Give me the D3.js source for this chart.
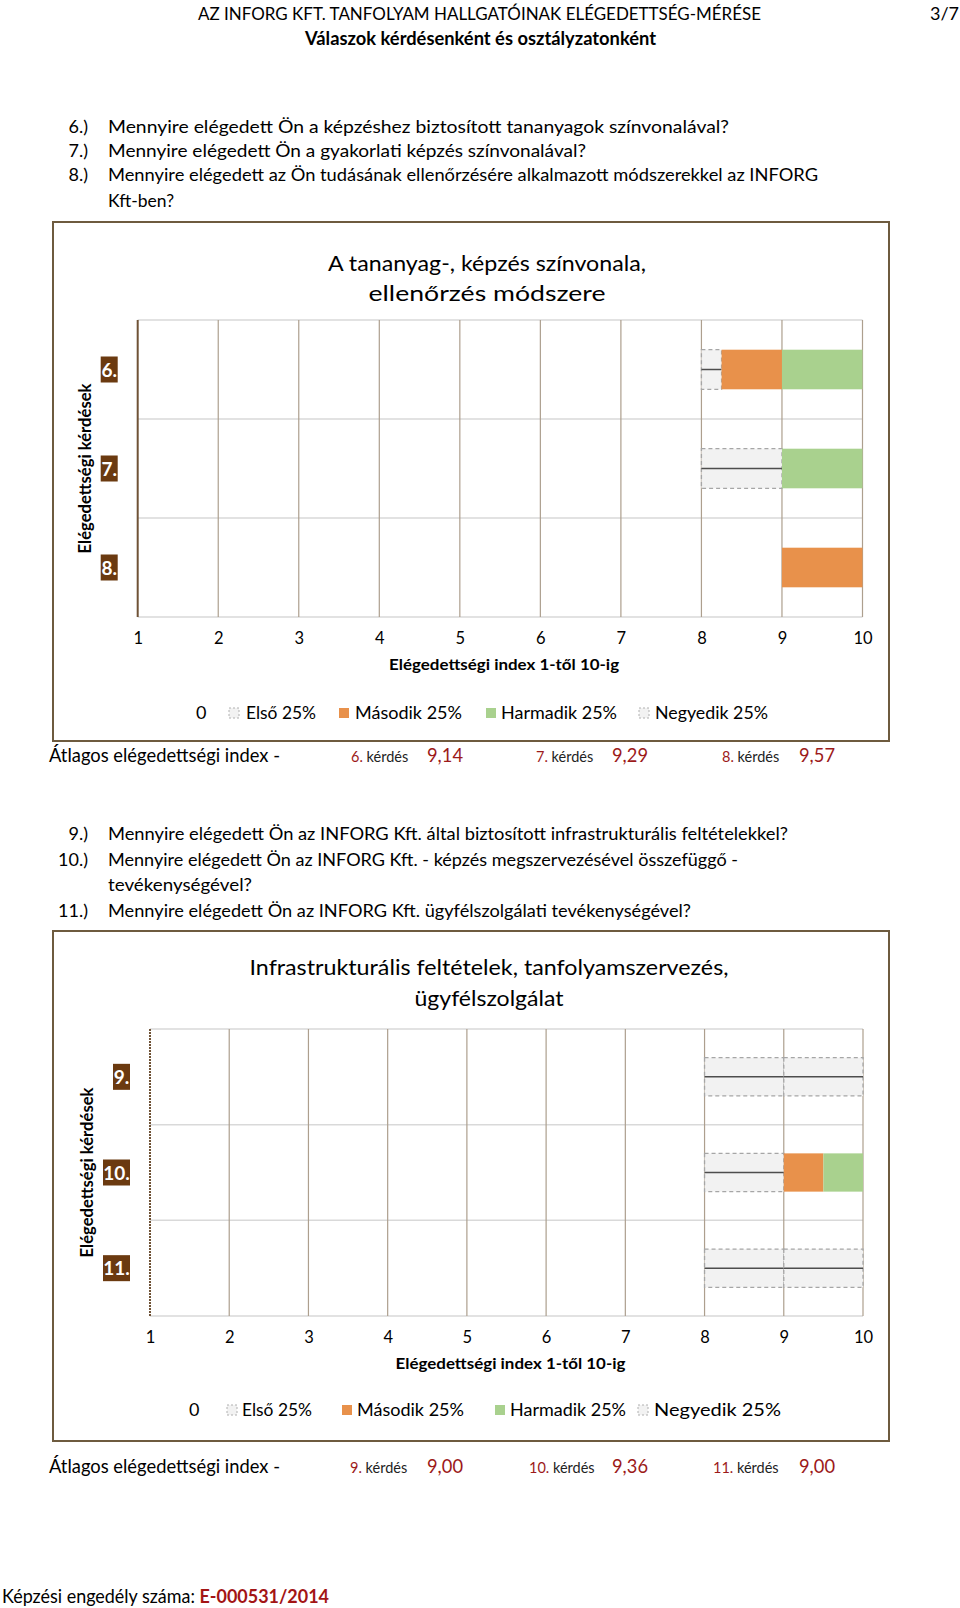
<!DOCTYPE html>
<html>
<head>
<meta charset="utf-8">
<script src="https://cdn.jsdelivr.net/npm/d3@7"></script>
<style>
  html, body { margin: 0; padding: 0; background: #ffffff; }
  svg { display: block; font-family: Lato, "Open Sans", "Noto Sans", sans-serif; }
</style>
</head>
<body>
<svg id="page" width="960" height="1608"></svg>
<script>
// ---------------- DATA ----------------
const headerTitle = "AZ INFORG KFT. TANFOLYAM HALLGATÓINAK ELÉGEDETTSÉG-MÉRÉSE";
const pageNo = "3/7";
const headerSub = "Válaszok kérdésenként és osztályzatonként";

const qNums1 = ["6.)", "7.)", "8.)"];
const qTexts1 = [
  ["Mennyire elégedett Ön a képzéshez biztosított tananyagok színvonalával?"],
  ["Mennyire elégedett Ön a gyakorlati képzés színvonalával?"],
  ["Mennyire elégedett az Ön tudásának ellenőrzésére alkalmazott módszerekkel az INFORG", "Kft-ben?"]
];
const qNums2 = ["9.)", "10.)", "11.)"];
const qTexts2 = [
  ["Mennyire elégedett Ön az INFORG Kft. által biztosított infrastrukturális feltételekkel?"],
  ["Mennyire elégedett Ön az INFORG Kft. - képzés megszervezésével összefüggő -", "tevékenységével?"],
  ["Mennyire elégedett Ön az INFORG Kft. ügyfélszolgálati tevékenységével?"]
];

const chartTitle1 = ["A tananyag-, képzés színvonala,", "ellenőrzés módszere"];
const chartTitle2 = ["Infrastrukturális feltételek, tanfolyamszervezés,", "ügyfélszolgálat"];

const seriesNames = ["0", "Első 25%", "Második 25%", "Harmadik 25%", "Negyedik 25%"];
const xTicks = [1, 2, 3, 4, 5, 6, 7, 8, 9, 10];
const xAxisTitle = "Elégedettségi index 1-től 10-ig";
const yAxisTitle = "Elégedettségi kérdések";

// chart 1 (questions 6-8)
const categories1 = ["6.", "7.", "8."];
const zero1   = [8, 8, 9];
const first1  = [0.25, 1, 0];
const second1 = [0.75, 0, 1];
const third1  = [1, 1, 0];
const fourth1 = [0, 0, 0];
const avgLabels1 = ["6.", "7.", "8."];
const avgValues1 = ["9,14", "9,29", "9,57"];

// chart 2 (questions 9-11)
const categories2 = ["9.", "10.", "11."];
const zero2   = [8, 8, 8];
const first2  = [1, 1, 1];
const second2 = [0, 0.5, 0];
const third2  = [0, 0.5, 0];
const fourth2 = [1, 0, 1];
const avgLabels2 = ["9.", "10.", "11."];
const avgValues2 = ["9,00", "9,36", "9,00"];

const avgTitle = "Átlagos elégedettségi index -";
const footerLabel = "Képzési engedély száma: ";
const footerCode = "E-000531/2014";

// ---------------- STYLE ----------------
const C = {
  text: "#000000",
  red: "#9c1a1a",
  orange: "#E8914B",
  green: "#A9D18E",
  boxFill: "#f2f2f2",
  boxStroke: "#a6a6a6",
  median: "#4d4d4d",
  labelBox: "#6b3a10",
  border: "#6e5b3f",
  vgrid: "#ad9f8e",
  hgrid: "#d9d9d9",
  axis: "#6f5236"
};

const svg = d3.select("#page");
svg.append("rect").attr("width", 960).attr("height", 1608).attr("fill", "#fff");

function txt(x, y, s, o = {}) {
  const t = svg.append("text")
    .attr("x", x).attr("y", y)
    .attr("font-size", o.size || 18)
    .attr("font-weight", o.weight || "normal")
    .attr("fill", o.fill || C.text)
    .attr("text-anchor", o.anchor || "start")
    .text(s);
  if (o.len) t.attr("textLength", o.len).attr("lengthAdjust", o.adjust || "spacingAndGlyphs");
  return t;
}

// ---------------- HEADER ----------------
txt(198, 20, headerTitle, { size: 18, len: 563 });
txt(959, 20, pageNo, { size: 18, anchor: "end" });
txt(305, 45, headerSub, { size: 18, weight: "bold", len: 351 });

function questions(nums, texts, baselines, widths) {
  let k = 0;
  nums.forEach((n, i) => {
    txt(88, baselines[k], n, { size: 18, anchor: "end" });
    texts[i].forEach((line) => {
      txt(108, baselines[k], line, { size: 18, len: widths[k] });
      k++;
    });
  });
}
questions(qNums1, qTexts1, [133, 157, 181, 207], [621, 478, 710, 66]);
questions(qNums2, qTexts2, [840, 866, 891, 917], [680, 630, 144, 583]);

// ---------------- CHARTS ----------------
function drawChart(cfg) {
  const rows = cfg.categories.map((c, i) => ({
    cat: c,
    [seriesNames[0]]: cfg.zero[i],
    [seriesNames[1]]: cfg.first[i],
    [seriesNames[2]]: cfg.second[i],
    [seriesNames[3]]: cfg.third[i],
    [seriesNames[4]]: cfg.fourth[i]
  }));

  // border
  svg.append("rect")
    .attr("x", cfg.box[0]).attr("y", cfg.box[1])
    .attr("width", cfg.box[2]).attr("height", cfg.box[3])
    .attr("fill", "none").attr("stroke", C.border).attr("stroke-width", 2);

  // title
  cfg.title.forEach((line, i) => {
    txt(cfg.titleX, cfg.titleY[i], line, { size: 22, anchor: "middle", len: cfg.titleLen[i] });
  });

  const x = d3.scaleLinear().domain([1, 10]).range([cfg.plot.x0, cfg.plot.x1]);
  const y = d3.scaleBand().domain(cfg.categories).range([cfg.plot.y0, cfg.plot.y1]).paddingInner(0).paddingOuter(0);
  const barH = y.bandwidth() * 0.4;

  // horizontal gridlines (band separators)
  const bandEdges = cfg.categories.map(c => y(c)).concat([cfg.plot.y1]);
  svg.append("g").selectAll("line").data(bandEdges).join("line")
    .attr("x1", cfg.plot.x0).attr("x2", cfg.plot.x1)
    .attr("y1", d => d).attr("y2", d => d)
    .attr("stroke", C.hgrid).attr("stroke-width", 1.5);

  // vertical gridlines
  svg.append("g").selectAll("line").data(xTicks.slice(1)).join("line")
    .attr("x1", d => x(d)).attr("x2", d => x(d))
    .attr("y1", cfg.plot.y0).attr("y2", cfg.plot.y1)
    .attr("stroke", C.vgrid).attr("stroke-width", 1.2);

  // left axis line
  svg.append("line")
    .attr("x1", x(1)).attr("x2", x(1)).attr("y1", cfg.plot.y0).attr("y2", cfg.plot.y1)
    .attr("stroke", C.axis).attr("stroke-width", 2)
    .attr("stroke-dasharray", cfg.dottedAxis ? "2,1" : null);

  // bars
  const stacked = d3.stack().keys(seriesNames)(rows);
  const gBars = svg.append("g");
  stacked.forEach((layer, li) => {
    if (li === 0) return; // invisible offset series
    layer.forEach(seg => {
      const w = seg[1] - seg[0];
      if (w <= 0) return;
      const cat = seg.data.cat;
      const x0 = x(seg[0]), x1 = x(seg[1]);
      const yTop = y(cat) + (y.bandwidth() - barH) / 2;
      if (li === 2 || li === 3) {
        gBars.append("rect")
          .attr("x", x0).attr("y", yTop).attr("width", x1 - x0).attr("height", barH)
          .attr("fill", li === 2 ? C.orange : C.green);
      } else {
        gBars.append("rect")
          .attr("x", x0).attr("y", yTop).attr("width", x1 - x0).attr("height", barH)
          .attr("fill", C.boxFill)
          .attr("stroke", C.boxStroke).attr("stroke-width", 1.3)
          .attr("stroke-dasharray", "4,3");
        gBars.append("line")
          .attr("x1", x0).attr("x2", x1)
          .attr("y1", yTop + barH / 2).attr("y2", yTop + barH / 2)
          .attr("stroke", C.median).attr("stroke-width", 1.5);
      }
    });
  });

  // category labels (white on brown)
  cfg.categories.forEach(c => {
    const cy = y(c) + y.bandwidth() / 2;
    const w = c.length > 2 ? 27 : 17;
    svg.append("rect")
      .attr("x", x(1) - 20 - w).attr("y", cy - 13).attr("width", w).attr("height", 26)
      .attr("fill", C.labelBox);
    txt(x(1) - 20 - w / 2, cy + 7, c, { size: 19, weight: "bold", fill: "#ffffff", anchor: "middle" });
  });

  // y axis title
  svg.append("text")
    .attr("transform", `translate(${cfg.yTitleX},${(cfg.plot.y0 + cfg.plot.y1) / 2}) rotate(-90)`)
    .attr("text-anchor", "middle")
    .attr("font-size", 16.5).attr("font-weight", "bold")
    .attr("textLength", 170).attr("lengthAdjust", "spacingAndGlyphs")
    .text(yAxisTitle);

  // x axis tick labels via d3 axis
  const axisG = svg.append("g")
    .attr("transform", `translate(0,${cfg.plot.y1})`)
    .call(d3.axisBottom(x).tickValues(xTicks).tickSize(0).tickPadding(cfg.tickPad).tickFormat(d3.format("d")));
  axisG.select(".domain").remove();
  axisG.selectAll("text").attr("font-size", 16.5).attr("fill", "#000").attr("font-family", "Lato, sans-serif");

  // x axis title
  txt((cfg.plot.x0 + cfg.plot.x1) / 2 + 4, cfg.xTitleY, xAxisTitle, { size: 16, weight: "bold", anchor: "middle", len: 230 });

  // legend
  const L = cfg.legend;
  txt(L.zeroX, L.y, seriesNames[0], { size: 18 });
  seriesNames.slice(1).forEach((name, i) => {
    const mx = L.markerX[i];
    const mk = svg.append("rect")
      .attr("x", mx).attr("y", L.y - 11).attr("width", 10).attr("height", 10);
    if (i === 1) mk.attr("fill", C.orange);
    else if (i === 2) mk.attr("fill", C.green);
    else mk.attr("fill", C.boxFill).attr("stroke", "#b0b0b0").attr("stroke-width", 1).attr("stroke-dasharray", "2,2");
    txt(L.textX[i], L.y, name, { size: 18, len: L.textW[i] });
  });

  // average row
  const A = cfg.avg;
  txt(49, A.y, avgTitle, { size: 19, len: 231 });
  cfg.avgLabels.forEach((lab, i) => {
    const t = svg.append("text").attr("x", A.labelX[i]).attr("y", A.y).attr("font-size", 14.5);
    t.append("tspan").attr("fill", C.red).text(lab);
    t.append("tspan").attr("fill", "#222").text(" kérdés");
    txt(A.valueX[i], A.y, cfg.avgValues[i], { size: 19, fill: C.red, len: 36 });
  });
}

drawChart({
  categories: categories1, zero: zero1, first: first1, second: second1, third: third1, fourth: fourth1,
  box: [53, 222, 836, 519],
  title: chartTitle1, titleX: 487, titleY: [271, 301], titleLen: [318, 237],
  plot: { x0: 137.7, x1: 862.5, y0: 320, y1: 617 },
  yTitleX: 91, tickPad: 15, xTitleY: 669.5, dottedAxis: false,
  legend: { y: 719, zeroX: 196, markerX: [229, 339, 486, 639], textX: [246, 355, 501, 655], textW: [70, 107, 116, 113] },
  avgLabels: avgLabels1, avgValues: avgValues1,
  avg: { y: 762, labelX: [351, 536, 722], valueX: [427, 612, 799] }
});

drawChart({
  categories: categories2, zero: zero2, first: first2, second: second2, third: third2, fourth: fourth2,
  box: [53, 931, 836, 510],
  title: chartTitle2, titleX: 489, titleY: [975, 1006], titleLen: [479, 149],
  plot: { x0: 150, x1: 863, y0: 1029, y1: 1316 },
  yTitleX: 92.5, tickPad: 15, xTitleY: 1369, dottedAxis: true,
  legend: { y: 1416, zeroX: 189, markerX: [227, 342, 495, 638], textX: [242, 357, 510, 654], textW: [70, 107, 116, 127] },
  avgLabels: avgLabels2, avgValues: avgValues2,
  avg: { y: 1473, labelX: [350, 529, 713], valueX: [427, 612, 799] }
});

// ---------------- FOOTER ----------------
const ft = svg.append("text").attr("x", 2).attr("y", 1603).attr("font-size", 19)
  .attr("textLength", 327).attr("lengthAdjust", "spacingAndGlyphs");
ft.append("tspan").attr("fill", "#000").text(footerLabel);
ft.append("tspan").attr("fill", "#a31515").attr("font-weight", "bold").text(footerCode);
</script>
</body>
</html>
